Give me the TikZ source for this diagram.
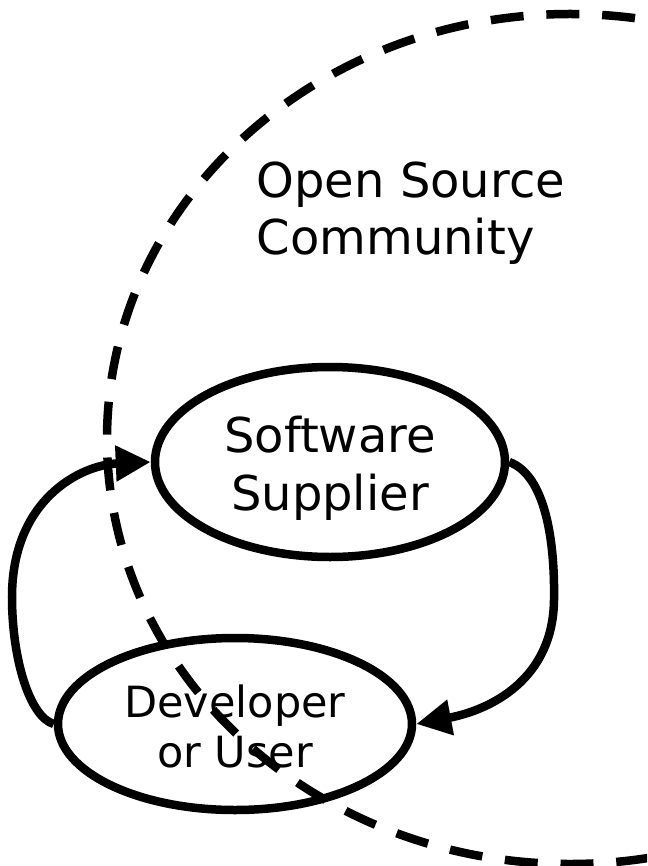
\documentclass[tikz,border=0pt]{standalone}
\usepackage{fontspec}
\setmainfont{DejaVu Sans}
\usetikzlibrary{arrows.meta,shapes.geometric}
\begin{document}
\begin{tikzpicture}[x=1pt,y=-1pt,
  bubble/.style={draw, ellipse, line width=8.5pt, inner sep=0pt, align=center},
  flow/.style={line width=8.5pt, -{Triangle[length=35pt,width=34pt]}},
  boundary/.style={line width=8.5pt, dash pattern=on 33pt off 22.82pt, dash phase=51.3pt}]
\useasboundingbox (0,0) rectangle (647,866);
\node[bubble, minimum width=350pt, minimum height=190pt, font=\fontsize{48}{58}\selectfont] (sup) at (330,462) {\rule{0pt}{48pt}Software\\Supplier};
\node[bubble, minimum width=354pt, minimum height=172pt, font=\fontsize{43}{50}\selectfont] (dev) at (235,724) {\rule{0pt}{36.7pt}Developer\\or User};
\node[anchor=north west, inner sep=0pt, align=left, font=\fontsize{48}{57}\selectfont] (osc) at (256.5,161.4) {Open Source\\Community};
\coordinate (lbend) at (12,597);
\coordinate (rbend) at (554,600);
\draw[flow] (dev.west) .. controls (30,717) and (12,660) .. (lbend) .. controls (12,500) and (80,465) .. (sup.west);
\draw[flow] (sup.east) .. controls (545,475) and (555,540) .. (rbend) .. controls (553,680) and (490,710) .. (dev.east);
\begin{scope}
\clip (0,0) rectangle (647,866);
\draw[boundary] (570,439) ellipse [x radius=463, y radius=425];
\end{scope}
\end{tikzpicture}
\end{document}
